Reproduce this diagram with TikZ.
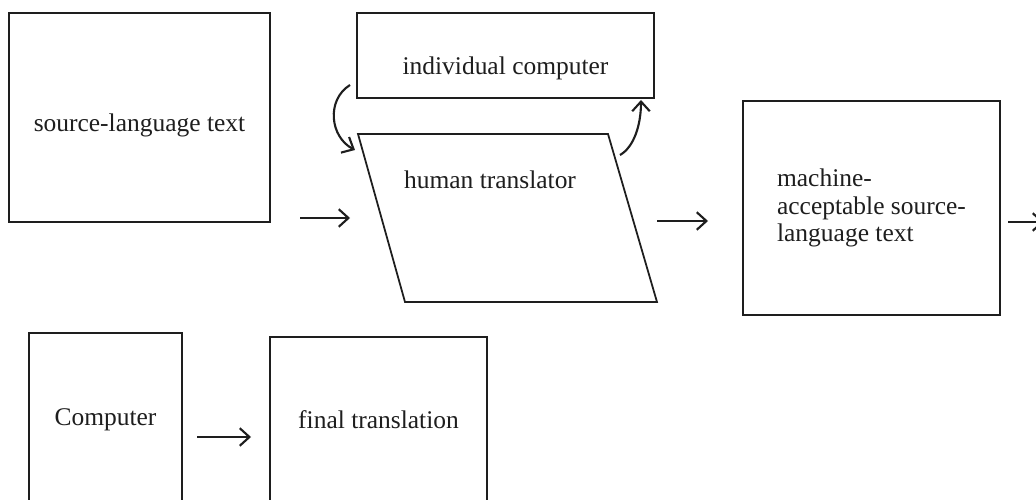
\documentclass[tikz,border=0pt]{standalone}
\usepackage{fontspec}
\setmainfont{Liberation Serif}
\usetikzlibrary{arrows.meta,positioning,calc}
\definecolor{inkgray}{RGB}{30,30,30}

\begin{document}
\begin{tikzpicture}[x=0.02cm, y=-0.02cm,
    txt/.style={font=\fontsize{14.5}{15.8}\selectfont, text=inkgray, align=left},
    box/.style={txt, draw=inkgray, line width=1pt, inner sep=0pt},
    flow/.style={-{Straight Barb[length=5.5pt,width=10pt]}, line width=1.2pt, inkgray}]

  \clip (0,0) rectangle (1036,500);
  \fill[white] (0,0) rectangle (1036,500);

  % top row
  \node[box, minimum width=5.22cm, minimum height=4.18cm, text height=19pt] (source) at (139.5,117.5) {source-language text};
  \node[box, minimum width=5.94cm, minimum height=1.7cm, text height=25pt] (indiv) at (505.5,55.5) {individual computer};

  \coordinate (htl) at (358,134);
  \coordinate (htr) at (608,134);
  \coordinate (hbr) at (657,302);
  \coordinate (hbl) at (405,302);
  \draw[inkgray, line width=1pt] (htl) -- (htr) -- (hbr) -- (hbl) -- cycle;
  \node[txt] (human) at (490,180) {human translator};

  \node[box, minimum width=5.14cm, minimum height=4.28cm] (machine) at (871.5,208) {machine-\\acceptable source-\\language text};

  % bottom row
  \node[box, minimum width=3.06cm, minimum height=3.48cm] (comp) at (105.5,420) {Computer};
  \node[box, minimum width=4.34cm, minimum height=3.32cm] (final) at (378.5,420) {final translation};

  % arrows
  \coordinate (a1s) at (300,218);
  \coordinate (a1e) at (350,218);
  \coordinate (a2s) at (657,221);
  \coordinate (a2e) at (708,221);
  \coordinate (a3s) at (1008,222);
  \coordinate (a3e) at (1044,222);
  \coordinate (a4s) at (197,437);
  \coordinate (a4e) at (251,437);
  \coordinate (c1s) at (350,85);
  \coordinate (c1e) at (355,150);
  \coordinate (c2s) at (620,155);
  \coordinate (c2e) at (641,100);

  \draw[flow] (a1s) -- (a1e);
  \draw[flow] (a2s) -- (a2e);
  \draw[flow] (a3s) -- (a3e);
  \draw[flow] (a4s) -- (a4e);
  \draw[flow] (c1s) .. controls (326,100) and (330,137) .. (c1e);
  \draw[flow] (c2s) .. controls (634,147) and (641,125) .. (c2e);
\end{tikzpicture}
\end{document}
